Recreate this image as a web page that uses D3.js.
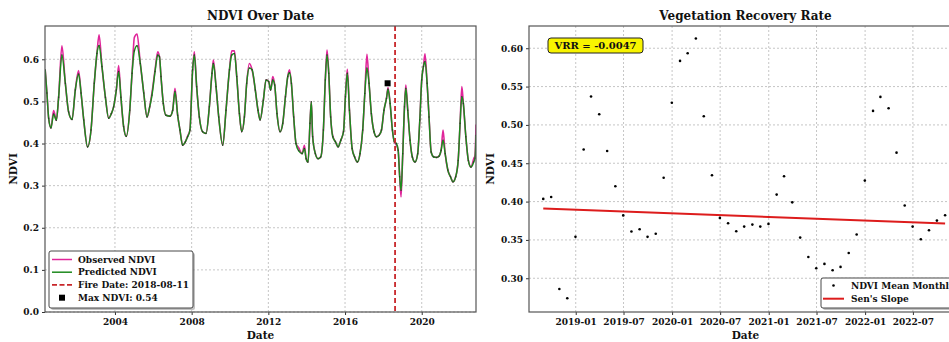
<!DOCTYPE html>
<html><head><meta charset="utf-8">
<script src="https://cdn.jsdelivr.net/npm/d3@7"></script>
<style>
html,body{margin:0;padding:0;background:#fff;}
svg{display:block;}
text{font-family:"DejaVu Serif",serif;font-weight:bold;fill:#111;}
</style></head>
<body><svg id="c" width="949" height="342"></svg>
<script>
// ---------- DATA ----------
// Left chart: NDVI time series (decimal years)
const ndviYears = [
2000.36,2000.45,2000.54,2000.66,2000.80,2000.94,2001.06,2001.23,2001.41,2001.58,2001.76,2001.93,
2002.10,2002.23,2002.37,2002.57,2002.75,2002.92,2003.06,2003.17,2003.32,2003.50,2003.67,2003.81,2003.93,
2004.07,2004.19,2004.31,2004.45,2004.59,2004.77,2004.89,2005.01,2005.15,2005.32,2005.50,2005.67,2005.81,2005.93,
2006.09,2006.23,2006.32,2006.40,2006.52,2006.66,2006.87,2007.01,2007.13,2007.27,2007.39,2007.53,2007.67,2007.79,2007.91,
2008.05,2008.14,2008.26,2008.40,2008.57,2008.75,2008.92,2009.06,2009.13,2009.27,2009.41,2009.62,2009.79,2009.97,
2010.09,2010.23,2010.35,2010.49,2010.61,2010.75,2010.87,2011.01,2011.15,2011.32,2011.46,2011.57,2011.74,2011.88,
2012.02,2012.12,2012.23,2012.33,2012.45,2012.61,2012.75,2012.89,2013.01,2013.10,2013.20,2013.32,2013.44,2013.58,2013.76,2013.88,2013.97,
2014.07,2014.17,2014.24,2014.31,2014.45,2014.59,2014.73,2014.87,2014.97,2015.06,2015.15,2015.25,2015.36,2015.50,2015.64,2015.78,2015.92,
2016.02,2016.12,2016.23,2016.37,2016.50,2016.64,2016.78,2016.92,2017.03,2017.14,2017.25,2017.37,2017.51,2017.64,2017.78,2017.90,
2018.03,2018.16,2018.24,2018.35,2018.47,2018.57,2018.68,2018.77,2018.85,2018.92,2019.01,2019.10,2019.17,2019.27,2019.39,2019.51,2019.65,2019.79,2019.90,
2020.00,2020.09,2020.17,2020.28,2020.38,2020.49,2020.63,2020.77,2020.90,2021.01,2021.11,2021.22,2021.36,2021.50,2021.63,2021.77,2021.90,
2022.00,2022.09,2022.17,2022.30,2022.43,2022.57,2022.71,2022.78,2022.83];
const observedNDVI = [
0.575,0.520,0.460,0.437,0.478,0.455,0.510,0.632,0.543,0.475,0.457,0.527,
0.573,0.520,0.456,0.392,0.432,0.543,0.614,0.658,0.583,0.510,0.460,0.471,0.487,
0.527,0.585,0.510,0.440,0.417,0.479,0.567,0.652,0.660,0.590,0.520,0.463,0.487,0.520,
0.575,0.618,0.606,0.559,0.495,0.467,0.465,0.479,0.531,0.467,0.432,0.396,0.404,0.418,0.432,
0.575,0.618,0.535,0.463,0.428,0.424,0.487,0.567,0.598,0.535,0.463,0.396,0.479,0.575,
0.620,0.620,0.559,0.471,0.428,0.463,0.543,0.590,0.575,0.527,0.479,0.456,0.503,0.551,
0.547,0.527,0.559,0.539,0.471,0.428,0.448,0.511,0.559,0.575,0.543,0.463,0.400,0.390,0.376,0.396,0.364,
0.356,0.448,0.499,0.416,0.376,0.364,0.368,0.432,0.551,0.622,0.567,0.463,0.418,0.404,0.392,0.408,0.428,
0.511,0.576,0.479,0.388,0.368,0.356,0.376,0.432,0.519,0.612,0.543,0.471,0.428,0.416,0.420,0.432,
0.479,0.507,0.533,0.495,0.432,0.404,0.396,0.384,0.321,0.273,0.376,0.487,0.539,0.479,0.408,0.368,0.356,0.376,0.456,
0.551,0.583,0.613,0.543,0.463,0.380,0.368,0.367,0.370,0.384,0.432,0.376,0.337,0.321,0.309,0.321,0.360,
0.448,0.535,0.495,0.416,0.360,0.344,0.364,0.372,0.445];
const predictedNDVI = [
0.575,0.520,0.460,0.437,0.470,0.455,0.510,0.610,0.543,0.475,0.457,0.527,
0.565,0.520,0.456,0.392,0.432,0.543,0.614,0.633,0.583,0.510,0.460,0.471,0.487,
0.527,0.571,0.510,0.440,0.417,0.479,0.567,0.620,0.632,0.590,0.520,0.463,0.487,0.515,
0.571,0.610,0.606,0.559,0.495,0.467,0.465,0.479,0.523,0.467,0.432,0.396,0.404,0.416,0.432,
0.575,0.610,0.535,0.463,0.428,0.424,0.487,0.567,0.590,0.535,0.463,0.396,0.479,0.575,
0.610,0.614,0.559,0.471,0.428,0.463,0.543,0.579,0.575,0.527,0.479,0.456,0.503,0.551,
0.547,0.527,0.551,0.539,0.471,0.428,0.448,0.511,0.559,0.568,0.543,0.463,0.400,0.383,0.376,0.388,0.364,
0.356,0.448,0.499,0.416,0.376,0.364,0.368,0.432,0.551,0.610,0.567,0.463,0.416,0.404,0.392,0.408,0.428,
0.511,0.567,0.479,0.388,0.368,0.356,0.376,0.432,0.519,0.579,0.543,0.471,0.428,0.416,0.420,0.432,
0.479,0.507,0.529,0.495,0.432,0.404,0.400,0.384,0.321,0.289,0.376,0.487,0.531,0.479,0.408,0.368,0.356,0.376,0.456,
0.551,0.583,0.594,0.543,0.463,0.380,0.368,0.367,0.370,0.384,0.408,0.376,0.337,0.321,0.309,0.321,0.360,
0.448,0.511,0.495,0.416,0.360,0.344,0.356,0.365,0.420];
const leftYTicks = [0.0,0.1,0.2,0.3,0.4,0.5,0.6];
const leftXTicks = [2004,2008,2012,2016,2020];
const fireDate = "2018-08-11";
const maxNDVIYear = 2018.22;
const maxNDVIValue = 0.543;
const leftLegendLabels = ["Observed NDVI","Predicted NDVI","Fire Date: 2018-08-11","Max NDVI: 0.54"];

// Right chart: monthly mean NDVI after fire (month-end dates)
const monthlyStart = "2018-08";
const monthlyMeanNDVI = [
0.4035,0.406,0.286,0.274,0.354,
0.468,0.537,0.514,0.466,0.420,0.382,0.361,0.364,0.354,0.358,0.431,0.529,
0.5835,0.5935,0.6126,0.5113,0.4343,0.3787,0.3717,0.3613,0.3674,0.370,0.3674,0.3709,
0.4091,0.433,0.399,0.353,0.3278,0.313,0.3187,0.3104,0.3148,0.333,0.357,0.4274,
0.5183,0.5365,0.5217,0.4638,0.3948,0.3674,0.3509,0.3626,0.3752,0.3822];
const vrr = -0.0047;          // Sen's slope per year
const senIntercept = 0.3909;  // at first monthly date
const rightYTicks = [0.30,0.35,0.40,0.45,0.50,0.55,0.60];
const rightXTickLabels = ["2019-01","2019-07","2020-01","2020-07","2021-01","2021-07","2022-01","2022-07"];
const rightLegendLabels = ["NDVI Mean Monthly","Sen's Slope"];

// ---------- HELPERS ----------
function yd(y){const Y=Math.floor(y);const s=Date.UTC(Y,0,1),e=Date.UTC(Y+1,0,1);return new Date(s+(y-Y)*(e-s));}
const svg = d3.select("#c");
const gridColor="#b8b8b8", frameColor="#555";
const obsColor="#e0259a", predColor="#1e8a1e", fireColor="#c8262a", senColor="#dd1c1c";

// ---------- LEFT CHART ----------
const L={x0:45,x1:476,y0:26,y1:312};
const xL=d3.scaleUtc().domain([yd(2000.35),yd(2022.83)]).range([L.x0,L.x1]);
const yL=d3.scaleLinear().domain([0,0.679]).range([L.y1,L.y0]);
const gL=svg.append("g");
gL.selectAll(".vg").data(leftXTicks).enter().append("line")
 .attr("x1",d=>xL(yd(d))).attr("x2",d=>xL(yd(d))).attr("y1",L.y0).attr("y2",L.y1)
 .attr("stroke",gridColor).attr("stroke-width",0.8).attr("stroke-dasharray","2,2");
gL.selectAll(".hg").data(leftYTicks).enter().append("line")
 .attr("x1",L.x0).attr("x2",L.x1).attr("y1",d=>yL(d)).attr("y2",d=>yL(d))
 .attr("stroke",gridColor).attr("stroke-width",0.8).attr("stroke-dasharray","2,2");
const axLx=d3.axisBottom(xL).tickValues(leftXTicks.map(yd)).tickFormat(d3.utcFormat("%Y")).tickSize(3).tickPadding(4);
const axLy=d3.axisLeft(yL).tickValues(leftYTicks).tickFormat(d3.format(".1f")).tickSize(3).tickPadding(3);
const gax=gL.append("g").attr("transform",`translate(0,${L.y1})`).call(axLx);
const gay=gL.append("g").attr("transform",`translate(${L.x0},0)`).call(axLy);
[gax,gay].forEach(g=>{g.select(".domain").remove();g.selectAll("text").style("font-size","9px").style("font-family","DejaVu Serif").style("font-weight","bold").attr("fill","#111");g.selectAll("line").attr("stroke","#333");});
const pts = ndviYears.map((y,i)=>({d:yd(y),o:observedNDVI[i],p:predictedNDVI[i]}));
svg.append("clipPath").attr("id","clipL").append("rect").attr("x",L.x0).attr("y",L.y0).attr("width",L.x1-L.x0).attr("height",L.y1-L.y0);
const gData=gL.append("g").attr("clip-path","url(#clipL)");
gData.append("path").datum(pts).attr("fill","none").attr("stroke",obsColor).attr("stroke-width",1.6)
 .attr("d",d3.line().curve(d3.curveMonotoneX).x(d=>xL(d.d)).y(d=>yL(d.o)));
gData.append("path").datum(pts).attr("fill","none").attr("stroke",predColor).attr("stroke-width",1.5)
 .attr("d",d3.line().curve(d3.curveMonotoneX).x(d=>xL(d.d)).y(d=>yL(d.p)));
gData.selectAll(".dot").data(pts).enter().append("circle")
 .attr("cx",d=>xL(d.d)).attr("cy",d=>yL(d.p)).attr("r",0.7).attr("fill","#222").attr("opacity",0.7);
const fx=xL(new Date(fireDate+"T00:00:00Z"));
gL.append("line").attr("x1",fx).attr("x2",fx).attr("y1",L.y0).attr("y2",L.y1)
 .attr("stroke",fireColor).attr("stroke-width",1.8).attr("stroke-dasharray","5,3");
gL.append("rect").attr("x",xL(yd(maxNDVIYear))-3).attr("y",yL(maxNDVIValue)-3).attr("width",6).attr("height",6).attr("fill","#000");
gL.append("rect").attr("x",L.x0).attr("y",L.y0).attr("width",L.x1-L.x0).attr("height",L.y1-L.y0)
 .attr("fill","none").attr("stroke",frameColor).attr("stroke-width",1.2);
gL.append("text").attr("x",(L.x0+L.x1)/2).attr("y",20).attr("text-anchor","middle").style("font-size","12px").text("NDVI Over Date");
gL.append("text").attr("x",(L.x0+L.x1)/2).attr("y",339).attr("text-anchor","middle").style("font-size","10.5px").text("Date");
gL.append("text").attr("transform",`translate(17,${(L.y0+L.y1)/2}) rotate(-90)`).attr("text-anchor","middle").style("font-size","10.5px").text("NDVI");
const lg=gL.append("g");
lg.append("rect").attr("x",51).attr("y",253).attr("width",144).attr("height",57).attr("rx",2).attr("fill","#999").attr("opacity",0.6);
lg.append("rect").attr("x",49).attr("y",251).attr("width",144).attr("height",57).attr("rx",2).attr("fill","#fff").attr("stroke","#333").attr("stroke-width",0.9);
const lys=[259.5,272.2,284.9,297.7];
lg.append("line").attr("x1",52).attr("x2",72).attr("y1",lys[0]).attr("y2",lys[0]).attr("stroke",obsColor).attr("stroke-width",1.5);
lg.append("line").attr("x1",52).attr("x2",72).attr("y1",lys[1]).attr("y2",lys[1]).attr("stroke",predColor).attr("stroke-width",1.5);
lg.append("line").attr("x1",52).attr("x2",72).attr("y1",lys[2]).attr("y2",lys[2]).attr("stroke",fireColor).attr("stroke-width",1.8).attr("stroke-dasharray","5,2.5");
lg.append("rect").attr("x",59).attr("y",lys[3]-3).attr("width",6).attr("height",6).attr("fill","#000");
lg.selectAll(".lt").data(leftLegendLabels).enter().append("text")
 .attr("x",78).attr("y",(d,i)=>lys[i]+3.2).style("font-size","9px").text(d=>d);

// ---------- RIGHT CHART ----------
const R={x0:529,x1:962,y0:26,y1:312};
const mStart=new Date(monthlyStart+"-01T00:00:00Z");
const monthDates=monthlyMeanNDVI.map((v,i)=>d3.utcDay.offset(d3.utcMonth.offset(mStart,i+1),-1));
const xR=d3.scaleUtc().domain([new Date("2018-07-08T00:00:00Z"),new Date("2023-01-03T00:00:00Z")]).range([R.x0,R.x1]);
const yR=d3.scaleLinear().domain([0.256,0.629]).range([R.y1,R.y0]);
const gR=svg.append("g");
const rTickDates=rightXTickLabels.map(s=>new Date(s+"-01T00:00:00Z"));
gR.selectAll(".vg").data(rTickDates).enter().append("line")
 .attr("x1",d=>xR(d)).attr("x2",d=>xR(d)).attr("y1",R.y0).attr("y2",R.y1)
 .attr("stroke",gridColor).attr("stroke-width",0.8).attr("stroke-dasharray","2,2");
gR.selectAll(".hg").data(rightYTicks).enter().append("line")
 .attr("x1",R.x0).attr("x2",R.x1).attr("y1",d=>yR(d)).attr("y2",d=>yR(d))
 .attr("stroke",gridColor).attr("stroke-width",0.8).attr("stroke-dasharray","2,2");
const axRx=d3.axisBottom(xR).tickValues(rTickDates).tickFormat(d3.utcFormat("%Y-%m")).tickSize(3).tickPadding(4);
const axRy=d3.axisLeft(yR).tickValues(rightYTicks).tickFormat(d3.format(".2f")).tickSize(3).tickPadding(3);
const grx=gR.append("g").attr("transform",`translate(0,${R.y1})`).call(axRx);
const gry=gR.append("g").attr("transform",`translate(${R.x0},0)`).call(axRy);
[grx,gry].forEach(g=>{g.select(".domain").remove();g.selectAll("text").style("font-size","9px").style("font-family","DejaVu Serif").style("font-weight","bold").attr("fill","#111");g.selectAll("line").attr("stroke","#333");});
const d0=monthDates[0], d1=monthDates[monthDates.length-1];
const yrs=d=>(d-d0)/(365.25*864e5);
gR.append("line").attr("x1",xR(d0)).attr("x2",xR(d1)).attr("y1",yR(senIntercept)).attr("y2",yR(senIntercept+vrr*yrs(d1)))
 .attr("stroke",senColor).attr("stroke-width",2);
gR.selectAll(".pt").data(monthlyMeanNDVI).enter().append("circle")
 .attr("cx",(d,i)=>xR(monthDates[i])).attr("cy",d=>yR(d)).attr("r",1.3).attr("fill","#000");
gR.append("rect").attr("x",R.x0).attr("y",R.y0).attr("width",R.x1-R.x0).attr("height",R.y1-R.y0)
 .attr("fill","none").attr("stroke",frameColor).attr("stroke-width",1.2);
gR.append("rect").attr("x",548).attr("y",38).attr("width",95).attr("height",15).attr("rx",3).attr("fill","#f8f400").attr("stroke","#222").attr("stroke-width",1);
gR.append("text").attr("x",595.5).attr("y",49.2).attr("text-anchor","middle").style("font-size","10px").text("VRR = "+vrr.toFixed(4));
gR.append("text").attr("x",(R.x0+R.x1)/2).attr("y",20).attr("text-anchor","middle").style("font-size","12px").text("Vegetation Recovery Rate");
gR.append("text").attr("x",(R.x0+R.x1)/2).attr("y",339).attr("text-anchor","middle").style("font-size","10.5px").text("Date");
gR.append("text").attr("transform",`translate(494,${(R.y0+R.y1)/2}) rotate(-90)`).attr("text-anchor","middle").style("font-size","10.5px").text("NDVI");
const rg=gR.append("g");
rg.append("rect").attr("x",823).attr("y",280).attr("width",140).attr("height",30).attr("rx",2).attr("fill","#999").attr("opacity",0.6);
rg.append("rect").attr("x",821).attr("y",278).attr("width",140).attr("height",30).attr("rx",2).attr("fill","#fff").attr("stroke","#333").attr("stroke-width",0.9);
rg.append("circle").attr("cx",833.5).attr("cy",285.5).attr("r",1.3).attr("fill","#000");
rg.append("line").attr("x1",823).attr("x2",844).attr("y1",298.7).attr("y2",298.7).attr("stroke",senColor).attr("stroke-width",2);
rg.selectAll(".lt").data(rightLegendLabels).enter().append("text")
 .attr("x",851).attr("y",(d,i)=>[285.5,298.7][i]+3.2).style("font-size","9px").text(d=>d);
</script></body></html>
